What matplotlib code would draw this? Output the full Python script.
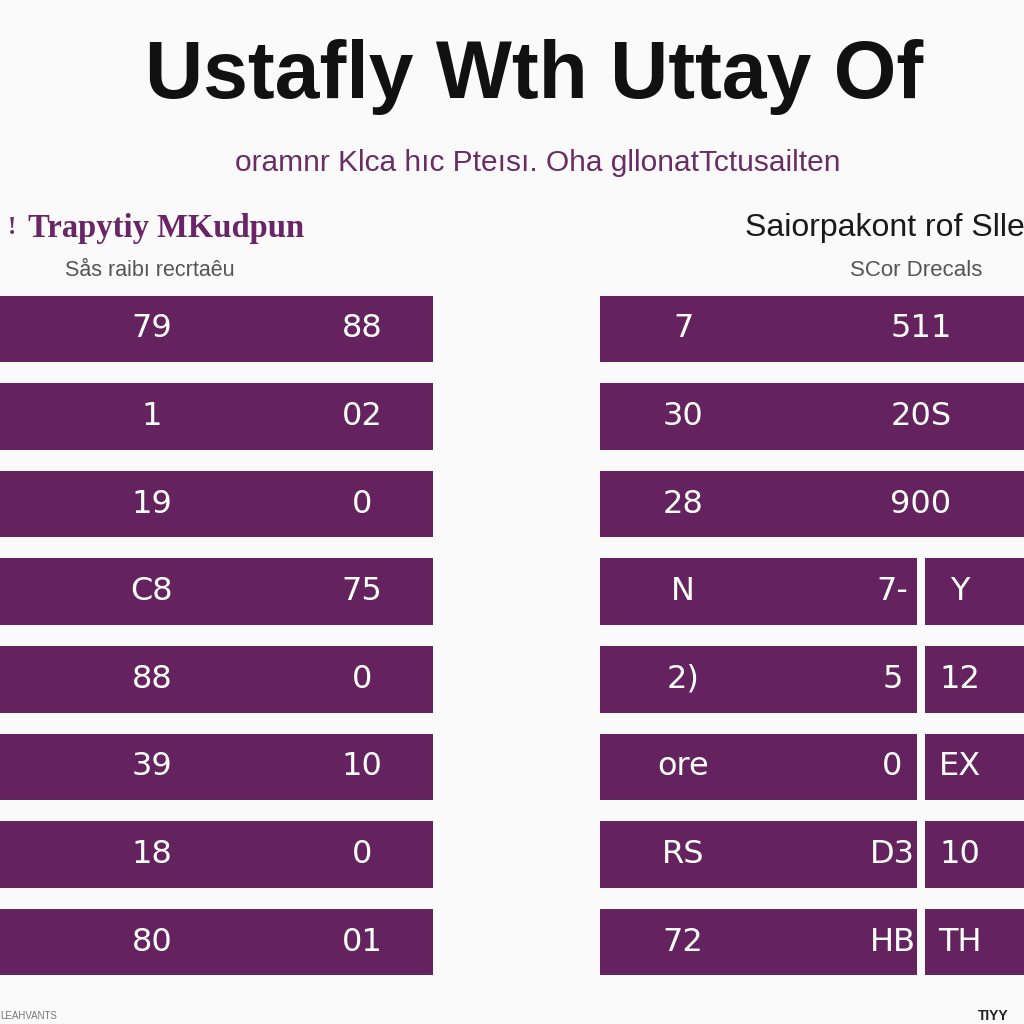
import matplotlib
matplotlib.use("Agg")
import matplotlib.pyplot as plt

# ---- data ----
rows = ["r1", "r2", "r3", "r4", "r5", "r6", "r7", "r8"]
left_col1 = ["79", "1", "19", "C8", "88", "39", "18", "80"]
left_col2 = ["88", "02", "0", "75", "0", "10", "0", "01"]
right_col1 = ["7", "30", "28", "N", "2)", "ore", "RS", "72"]
right_col2 = ["511", "20S", "900", "7-", "5", "0", "D3", "HB"]
right_col3 = ["", "", "", "Y", "12", "EX", "10", "TH"]
left_span = [1, 1, 1, 1, 1, 1, 1, 1]
right_main = [1.0, 1.0, 1.0, 0.748, 0.748, 0.748, 0.748, 0.748]
right_extra = [0, 0, 0, 0.233, 0.233, 0.233, 0.233, 0.233]

title = "Ustafly Wth Uttay Of"
subtitle = "oramnr Klca hıc Pteısı. Oha gllonatTctusailten"
left_head = "Trapytiy MKudpun"
left_sub = "Sås raibı recrtaêu"
right_head = "Saiorpakont rof Slle"
right_sub = "SCor Drecals"
foot_left = "LEAHVANTS"
foot_right = "TIYY"

BAR = "#64235f"
BG = "#fafafa"
SANS = ["Liberation Sans", "DejaVu Sans"]
SERIF = ["Liberation Serif", "DejaVu Serif"]
NUM = ["DejaVu Sans"]

fig = plt.figure(figsize=(10.24, 10.24), dpi=100, facecolor=BG)

# titles
fig.text(0.522, 1 - 77 / 1024, title, ha="center", va="center",
         fontsize=58, fontweight="bold", color="#111111", family=SANS)
fig.text(0.525, 1 - 163 / 1024, subtitle, ha="center", va="center",
         fontsize=21.5, color="#6a2d66", family=SANS)
fig.text(8 / 1024, 1 - 228 / 1024, "!", ha="left", va="center",
         fontsize=18, fontweight="bold", color="#6a2d66", family=SERIF)
fig.text(28 / 1024, 1 - 228 / 1024, left_head, ha="left", va="center",
         fontsize=23.5, fontweight="bold", color="#6a2566", family=SERIF)
fig.text(65 / 1024, 1 - 270 / 1024, left_sub, ha="left", va="center",
         fontsize=15.5, color="#555555", family=SANS)
fig.text(745 / 1024, 1 - 228 / 1024, right_head, ha="left", va="center",
         fontsize=23, color="#1a1a1a", family=SANS)
fig.text(850 / 1024, 1 - 270 / 1024, right_sub, ha="left", va="center",
         fontsize=16, color="#555555", family=SANS)
fig.text(0.0, 1 - 1016 / 1024, foot_left, ha="left", va="center",
         fontsize=7, color="#777777", family=SANS)
fig.text(978 / 1024, 1 - 1016 / 1024, foot_right, ha="left", va="center",
         fontsize=10, fontweight="bold", color="#222222", family=SANS)

ybot = 1 - 985.8 / 1024
yh = 700.6 / 1024
bh = 0.76
ypos = list(range(len(rows)))

# left panel
axl = fig.add_axes([0.0, ybot, 433 / 1024, yh])
axl.barh(ypos, left_span, height=bh, color=BAR)
axl.set_xlim(0, 1)
axl.set_ylim(len(rows) - 0.5, -0.5)
axl.axis("off")
for i in ypos:
    axl.text(0.351, i, left_col1[i], ha="center", va="center",
             color="white", fontsize=23, family=NUM)
    axl.text(0.836, i, left_col2[i], ha="center", va="center",
             color="white", fontsize=23, family=NUM)

# right panel
axr = fig.add_axes([600 / 1024, ybot, 424 / 1024, yh])
axr.barh(ypos, right_main, height=bh, color=BAR)
axr.barh(ypos, right_extra, left=0.767, height=bh, color=BAR)
axr.set_xlim(0, 1)
axr.set_ylim(len(rows) - 0.5, -0.5)
axr.axis("off")
for i in ypos:
    axr.text(0.196, i, right_col1[i], ha="center", va="center",
             color="white", fontsize=23, family=NUM)
    x2 = 0.757 if right_extra[i] == 0 else 0.69
    axr.text(x2, i, right_col2[i], ha="center", va="center",
             color="white", fontsize=23, family=NUM)
    if right_col3[i]:
        axr.text(0.849, i, right_col3[i], ha="center", va="center",
                 color="white", fontsize=23, family=NUM)

fig.savefig("out.png", dpi=100, facecolor=BG)
